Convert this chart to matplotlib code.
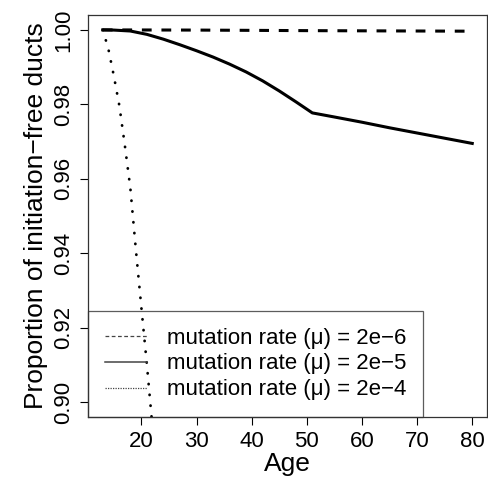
import numpy as np
import matplotlib
matplotlib.use('Agg')
import matplotlib.pyplot as plt
from matplotlib.lines import Line2D

plt.rcParams['font.family'] = ['Liberation Sans', 'DejaVu Sans']

# data
age_low = [13, 30, 50, 80]
prop_low = [1.0, 0.99995, 0.9998, 0.99965]

age_mid = [13, 15, 18, 21, 24, 27, 30, 33, 36, 39, 42, 45, 48, 51,
           55, 60, 65, 70, 75, 80]
prop_mid = [1.0, 0.99995, 0.9997, 0.9988, 0.9975, 0.9960, 0.9944, 0.9927, 0.9908,
            0.9887, 0.9863, 0.9836, 0.9807, 0.9777,
            0.9766, 0.9752, 0.9737, 0.9723, 0.9709, 0.9695]

age_high = [13, 14, 15, 16, 17, 18, 19, 20, 21, 22, 23]
prop_high = [1.0, 0.9950, 0.9877, 0.9797, 0.9690, 0.9575, 0.9410, 0.9254, 0.9101, 0.8935, 0.8770]

labels = ['mutation rate (\u03bc) = 2e\u22126',
          'mutation rate (\u03bc) = 2e\u22125',
          'mutation rate (\u03bc) = 2e\u22124']
x_ticks = [20, 30, 40, 50, 60, 70, 80]
y_ticks = [0.90, 0.92, 0.94, 0.96, 0.98, 1.00]
y_range = (0.90, 1.00)

fig = plt.figure(figsize=(4.88, 4.84), dpi=100)
ax = fig.add_axes([0.1803, 0.1384, 0.8177, 0.8306])

ax.plot(age_low, prop_low, color='black', lw=2.2, linestyle=(0, (3.2, 3.2)))
ax.plot(age_mid, prop_mid, color='black', lw=2.2, solid_joinstyle='round')
ax.plot(age_high, prop_high, color='black', lw=2.0, linestyle=(0, (0.1, 3.8)),
        dash_capstyle='round')

# R style axis ranges (4% padding)
xmin, xmax = min(age_mid), max(age_mid)
pad = 0.04 * (xmax - xmin)
ax.set_xlim(xmin - pad, xmax + pad)
pad = 0.04 * (y_range[1] - y_range[0])
ax.set_ylim(y_range[0] - pad, y_range[1] + pad)

ax.set_xticks(x_ticks)
ax.set_yticks(y_ticks)
ax.set_yticklabels([f'{v:.2f}' for v in y_ticks], rotation=90, va='center')
ax.tick_params(length=6, width=0.8, labelsize=16, pad=4)
for s in ax.spines.values():
    s.set_linewidth(0.9)
    s.set_color('#333333')

ax.set_xlabel('Age', fontsize=19, labelpad=0)
ax.set_ylabel('Proportion of initiation\u2212free ducts', fontsize=19, labelpad=4)

handles = [
    Line2D([], [], color='#444444', lw=0.9, linestyle=(0, (3, 2))),
    Line2D([], [], color='#444444', lw=1.1),
    Line2D([], [], color='#444444', lw=0.9, linestyle=(0, (1, 1))),
]
leg = ax.legend(handles, labels, loc='lower left', bbox_to_anchor=(0, 0),
                fontsize=16, frameon=True, fancybox=False, borderaxespad=0,
                handlelength=1.9, handletextpad=0.9, labelspacing=0.22,
                borderpad=0.75)
leg.get_frame().set_edgecolor('#333333')
leg.get_frame().set_linewidth(0.9)
leg.get_frame().set_facecolor('none')

fig.savefig('out.png', dpi=100)
